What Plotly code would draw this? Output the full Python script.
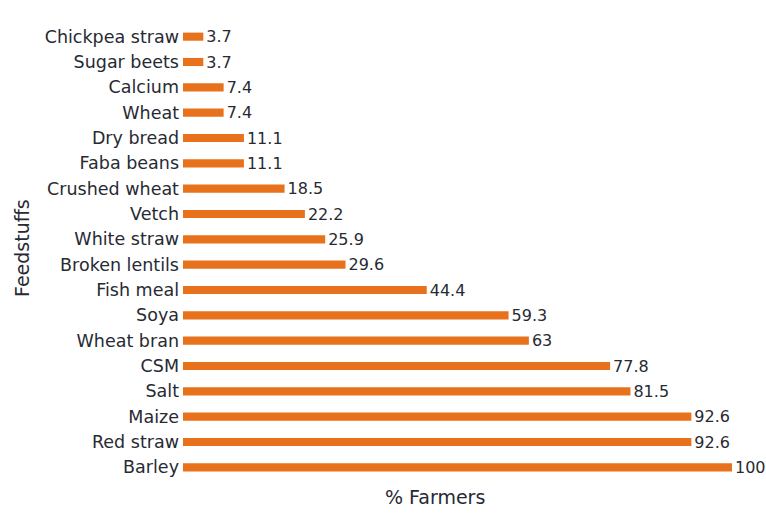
import plotly.graph_objects as go

feedstuffs = ["Chickpea straw", "Sugar beets", "Calcium", "Wheat", "Dry bread",
              "Faba beans", "Crushed wheat", "Vetch", "White straw", "Broken lentils",
              "Fish meal", "Soya", "Wheat bran", "CSM", "Salt", "Maize",
              "Red straw", "Barley"]
pct_farmers = [3.7, 3.7, 7.4, 7.4, 11.1, 11.1, 18.5, 22.2, 25.9, 29.6,
               44.4, 59.3, 63, 77.8, 81.5, 92.6, 92.6, 100]
value_labels = ["3.7", "3.7", "7.4", "7.4", "11.1", "11.1", "18.5", "22.2", "25.9",
                "29.6", "44.4", "59.3", "63", "77.8", "81.5", "92.6", "92.6", "100"]

W, H = 766, 516
ML, MR, MT, MB = 183, 34, 24, 36
font_family = "DejaVu Sans, Arial, sans-serif"
text_color = "#272a33"

fig = go.Figure(go.Bar(
    x=pct_farmers,
    y=feedstuffs,
    orientation="h",
    width=0.32,
    marker=dict(color="#E8721C", line=dict(width=0)),
    text=value_labels,
    textposition="outside",
    constraintext="none",
    textfont=dict(family=font_family, size=16, color=text_color),
    cliponaxis=False,
))

fig.update_layout(
    width=W, height=H,
    margin=dict(l=ML, r=MR, t=MT, b=MB),
    paper_bgcolor="white",
    plot_bgcolor="white",
    showlegend=False,
    xaxis=dict(range=[0, 100], showgrid=False, zeroline=False,
               showticklabels=False, ticks="", showline=False),
    yaxis=dict(categoryorder="array", categoryarray=feedstuffs,
               autorange="reversed", showgrid=False, zeroline=False,
               showline=False, ticks="", ticklabelstandoff=3,
               tickfont=dict(family=font_family, size=17.5, color=text_color)),
)

plot_w = W - ML - MR
plot_h = H - MT - MB
fig.add_annotation(text="% Farmers", xref="paper", yref="paper",
                   x=(435 - ML) / plot_w, y=-(497 - (H - MB)) / plot_h,
                   xanchor="center", yanchor="middle", showarrow=False,
                   font=dict(family=font_family, size=19, color=text_color))
fig.add_annotation(text="Feedstuffs", xref="paper", yref="paper",
                   x=-(ML - 22) / plot_w, y=((H - MB) - 248) / plot_h,
                   xanchor="center", yanchor="middle", showarrow=False, textangle=-90,
                   font=dict(family=font_family, size=19, color=text_color))

fig.write_html("out.html")
